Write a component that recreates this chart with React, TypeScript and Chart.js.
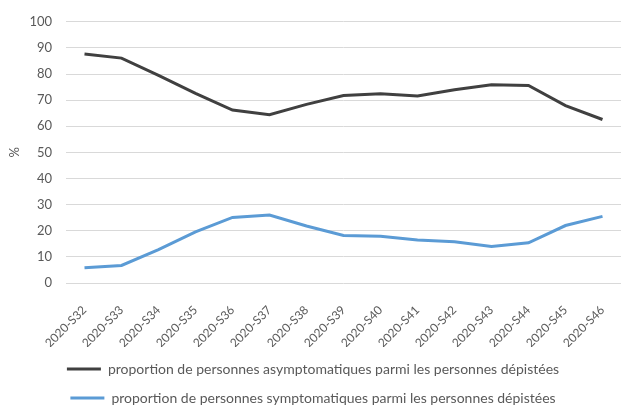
import React, { useEffect, useRef } from "react";
import { Chart, registerables } from "chart.js";

Chart.register(...registerables);

const categories = [
  "2020-S32", "2020-S33", "2020-S34", "2020-S35", "2020-S36", "2020-S37", "2020-S38", "2020-S39",
  "2020-S40", "2020-S41", "2020-S42", "2020-S43", "2020-S44", "2020-S45", "2020-S46",
];
const asymptomatic = [87.7, 86.1, 79.5, 72.6, 66.2, 64.4, 68.4, 71.8, 72.5, 71.6, 74.0, 75.9, 75.6, 67.9, 62.6];
const symptomatic = [5.8, 6.7, 12.8, 19.6, 25.1, 26.0, 21.8, 18.2, 17.9, 16.5, 15.8, 14.0, 15.4, 22.0, 25.5];
const yTicks = [0, 10, 20, 30, 40, 50, 60, 70, 80, 90, 100];

const FONT = "Lato, 'Noto Sans', sans-serif";
const TEXT = "#595959";

export default function App() {
  const ref = useRef<HTMLCanvasElement | null>(null);
  useEffect(() => {
    if (!ref.current) return;
    const chart = new Chart(ref.current, {
      type: "line",
      data: {
        labels: categories,
        datasets: [
          {
            label: "proportion de personnes asymptomatiques parmi les personnes dépistées",
            data: asymptomatic,
            borderColor: "#404040",
            backgroundColor: "#404040",
            borderWidth: 3,
            pointRadius: 0,
            tension: 0,
          },
          {
            label: "proportion de personnes symptomatiques parmi les personnes dépistées",
            data: symptomatic,
            borderColor: "#5B9BD5",
            backgroundColor: "#5B9BD5",
            borderWidth: 3,
            pointRadius: 0,
            tension: 0,
          },
        ],
      },
      options: {
        animation: false,
        responsive: true,
        maintainAspectRatio: false,
        layout: { padding: { top: 11, right: -2, left: 3, bottom: 0 } },
        plugins: {
          tooltip: { enabled: false },
          legend: {
            position: "bottom",
            labels: {
              color: TEXT,
              font: { family: FONT, size: 14 },
              boxWidth: 34,
              boxHeight: 3,
              padding: 15,
              generateLabels: (c: any) =>
                Chart.defaults.plugins.legend.labels.generateLabels(c).map((l: any) => ({
                  ...l,
                  lineWidth: 0,
                  strokeStyle: "rgba(0,0,0,0)",
                })),
            },
          },
        },
        scales: {
          x: {
            offset: true,
            grid: { display: false },
            border: { display: false },
            afterFit: (scale: any) => {
              scale.height = 64;
              scale.paddingLeft = 0;
              scale.paddingRight = 0;
            },
            ticks: {
              color: TEXT,
              font: { family: FONT, size: 12 },
              minRotation: 45,
              maxRotation: 45,
              padding: 12,
            },
          },
          y: {
            min: 0,
            max: 100,
            afterBuildTicks: (axis: any) => {
              axis.ticks = yTicks.map((v) => ({ value: v }));
            },
            afterFit: (scale: any) => {
              scale.width = 63;
            },
            grid: { color: "#D9D9D9", lineWidth: 1, drawTicks: false },
            border: { display: false },
            title: {
              display: true,
              text: "%",
              color: TEXT,
              font: { family: FONT, size: 13 },
              padding: { top: 4, bottom: 6 },
            },
            ticks: {
              color: TEXT,
              font: { family: FONT, size: 13 },
              padding: 14,
            },
          },
        },
      },
    });
    return () => chart.destroy();
  }, []);
  return (
    <div style={{ position: "fixed", left: 0, top: 0, width: 621, height: 415, background: "#fff" }}>
      <canvas ref={ref} />
    </div>
  );
}
